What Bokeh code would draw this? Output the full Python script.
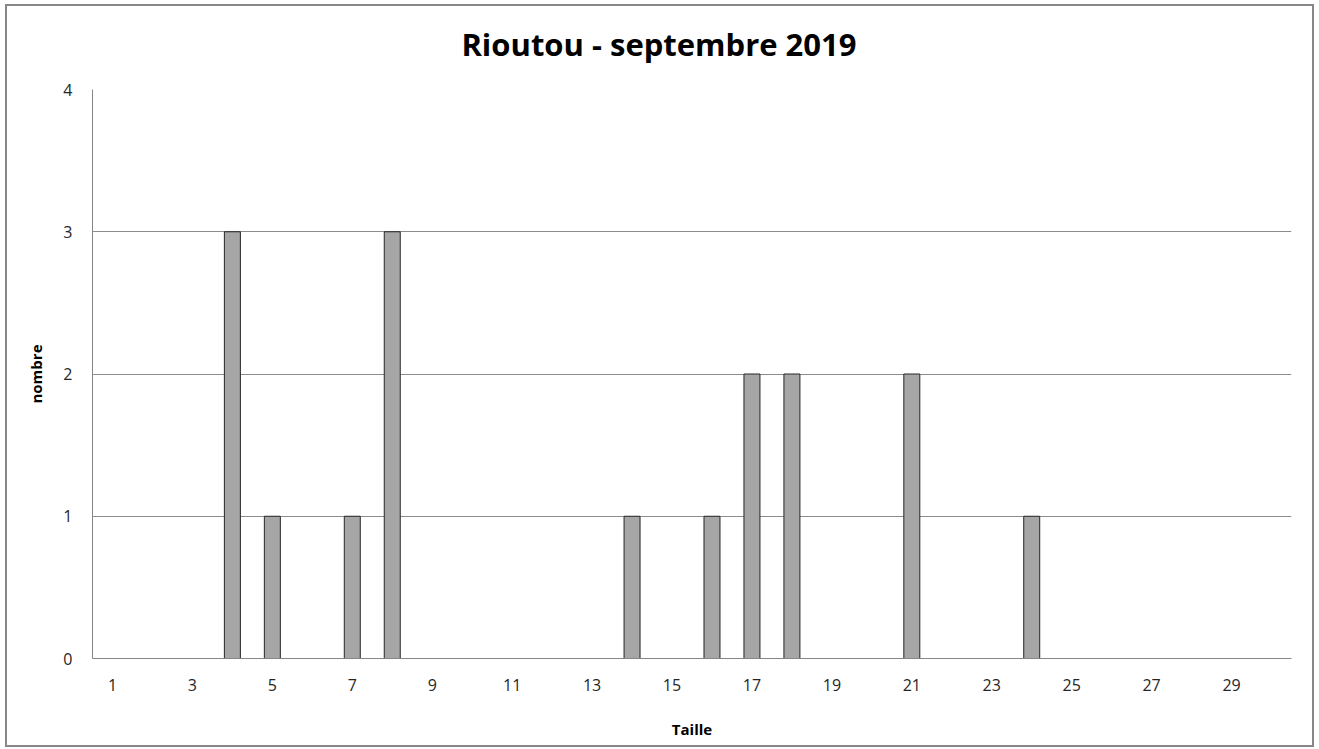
from bokeh.plotting import figure
from bokeh.models import Range1d, FixedTicker, LinearAxis
from bokeh.embed import file_html
from bokeh.resources import INLINE

title_text = "Rioutou - septembre 2019"
x_label = "Taille"
y_label = "nombre"
sizes = list(range(1, 31))
counts = [0, 0, 0, 3, 1, 0, 1, 3, 0, 0, 0, 0, 0, 1, 0, 1, 2, 2, 0, 0, 2, 0, 0, 1, 0, 0, 0, 0, 0, 0]
x_ticks = list(range(1, 30, 2))
y_ticks = [0, 1, 2, 3, 4]

bar_x = [s for s, c in zip(sizes, counts) if c > 0]
bar_c = [c for c in counts if c > 0]

FONT = "Open Sans"

p = figure(width=1309, height=743, output_backend="svg", toolbar_location=None,
           x_range=Range1d(0.5, 30.5), y_range=Range1d(0, 4),
           min_border_left=85, min_border_right=25, min_border_top=83, min_border_bottom=91)

p.styles = {"border": "2px solid #878787", "box-sizing": "border-box",
            "margin-left": "5px", "margin-top": "4px"}

bottom_axis = p.below[0]
left_axis = p.left[0]

# Title drawn as the single label of an axis above the plot, so that it can be
# centred on the whole chart (left of the plot-area centre) and placed freely.
# The range maps 0 to the chart's horizontal centre (pixel offsets from frame).
p.extra_x_ranges = {"title": Range1d(-566, 632)}
title_axis = LinearAxis(x_range_name="title", ticker=FixedTicker(ticks=[0]),
                        major_label_overrides={0: title_text})
title_axis.axis_line_color = None
title_axis.major_tick_line_color = None
title_axis.minor_tick_line_color = None
title_axis.major_label_text_font = FONT
title_axis.major_label_text_font_size = "31px"
title_axis.major_label_text_font_style = "bold"
title_axis.major_label_text_color = "#000000"
title_axis.major_label_standoff = 19
p.add_layout(title_axis, "above")

p.vbar(x=bar_x, top=bar_c, bottom=0, width=0.4, fill_color="#a6a6a6", line_color="#262626", line_width=1)

p.outline_line_color = None
p.xgrid.grid_line_color = None
p.ygrid.ticker = FixedTicker(ticks=y_ticks)
p.ygrid.grid_line_color = "#8c8c8c"
p.ygrid.grid_line_width = 1

bottom_axis.ticker = FixedTicker(ticks=x_ticks)
left_axis.ticker = FixedTicker(ticks=y_ticks)
for ax in (bottom_axis, left_axis):
    ax.axis_line_color = "#868686"
    ax.major_tick_line_color = None
    ax.minor_tick_line_color = None
    ax.major_label_text_font = FONT
    ax.major_label_text_font_size = "16px"
    ax.major_label_text_color = "#262626"
    ax.axis_label_text_font = FONT
    ax.axis_label_text_font_size = "15px"
    ax.axis_label_text_font_style = "bold"
    ax.axis_label_text_color = "#000000"

bottom_axis.axis_label = x_label
left_axis.axis_label = y_label
bottom_axis.major_label_standoff = 14
left_axis.major_label_standoff = 14
bottom_axis.axis_label_standoff = 25
left_axis.axis_label_standoff = 14

open("out.html", "w").write(file_html(p, INLINE))
